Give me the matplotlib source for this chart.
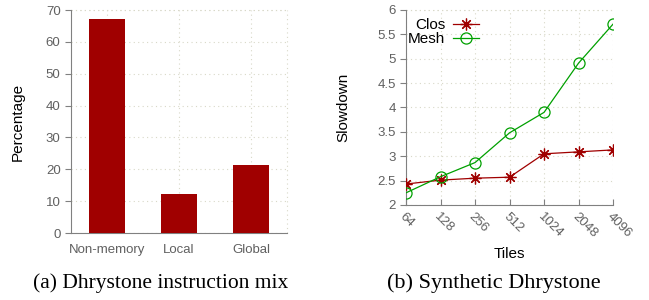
import matplotlib
matplotlib.use("Agg")
import matplotlib.pyplot as plt
import numpy as np

# data
mix_labels = ["Non-memory", "Local", "Global"]
mix_values = [67.1, 12.1, 21.2]

tiles = ["64", "128", "256", "512", "1024", "2048", "4096"]
clos = [2.43, 2.51, 2.55, 2.57, 3.05, 3.09, 3.13]
mesh = [2.25, 2.58, 2.87, 3.48, 3.90, 4.91, 5.71]

red = "#a00000"
green = "#00a000"
gray = "#808080"
tick_gray = "#606060"
grid_col = "#d8d8c8"

plt.rcParams["font.family"] = ["Liberation Sans", "DejaVu Sans"]
plt.rcParams["font.size"] = 9

fig = plt.figure(figsize=(6.49, 3.0), dpi=100)

# ---- (a) bar chart
ax1 = fig.add_axes([0.1094, 0.2233, 0.3328, 0.7433])
x = np.arange(len(mix_labels))
ax1.bar(x, mix_values, width=0.51, color=red, zorder=3)
ax1.set_xlim(-0.5, 2.5)
ax1.set_ylim(0, 70)
ax1.set_yticks(range(0, 71, 10))
ax1.set_xticks(x)
ax1.set_xticklabels(mix_labels)
ax1.set_ylabel("Percentage", fontsize=11, labelpad=15)
ax1.grid(True, linestyle=(0, (1, 3)), color=grid_col, linewidth=0.8, zorder=0)
for s in ["top", "right"]:
    ax1.spines[s].set_visible(False)
for s in ["left", "bottom"]:
    ax1.spines[s].set_color(gray)
ax1.tick_params(axis="y", direction="out", length=4, color=gray, labelcolor=tick_gray, labelsize=9.5)
ax1.tick_params(axis="x", length=0, pad=8, labelcolor=tick_gray, labelsize=9.5)
# dotted frame on top/right like the grid
ax1.axhline(70, color=grid_col, linestyle=(0, (1, 3)), linewidth=0.8, zorder=0, clip_on=False)
ax1.axvline(2.5, color=grid_col, linestyle=(0, (1, 3)), linewidth=0.8, zorder=0, clip_on=False)

# ---- (b) line chart
ax2 = fig.add_axes([0.6256, 0.3167, 0.319, 0.65])
xp = np.arange(len(tiles))
ax2.plot(xp, clos, color=red, linewidth=0.9, marker=(8, 2, 0), markersize=8.5,
         markeredgewidth=0.9, label="Clos", zorder=3)
ax2.plot(xp, mesh, color=green, linewidth=0.9, marker="o", markersize=8,
         markerfacecolor="none", markeredgewidth=0.9, label="Mesh", zorder=3)
ax2.set_xlim(0, 6)
ax2.set_ylim(2, 6)
ax2.set_yticks(np.arange(2, 6.01, 0.5))
ax2.set_yticklabels(["2", "2.5", "3", "3.5", "4", "4.5", "5", "5.5", "6"])
ax2.set_xticks(xp)
ax2.set_xticklabels(tiles, rotation=-45, ha="left", va="top", rotation_mode="anchor")
ax2.set_xlabel("Tiles", fontsize=11, labelpad=5)
ax2.set_ylabel("Slowdown", fontsize=11, labelpad=19)
ax2.grid(True, linestyle=(0, (1, 3)), color=grid_col, linewidth=0.8, zorder=0)
for s in ["top", "right"]:
    ax2.spines[s].set_visible(False)
for s in ["left", "bottom"]:
    ax2.spines[s].set_color(gray)
ax2.tick_params(axis="y", direction="out", length=4, color=gray, labelcolor=tick_gray, labelsize=9.5)
ax2.tick_params(axis="x", direction="in", length=4, color=gray, labelcolor=tick_gray,
                labelsize=9.5, pad=4)
ax2.axhline(6, color=grid_col, linestyle=(0, (1, 3)), linewidth=0.8, zorder=0, clip_on=False)
ax2.legend(loc="upper left", bbox_to_anchor=(-0.035, 1.005), frameon=False, markerfirst=False,
           handlelength=1.7, handletextpad=0.5, labelspacing=0.0, fontsize=11,
           borderaxespad=0.2)

# captions
fig.text(0.247, 0.055, "(a) Dhrystone instruction mix", ha="center", va="center",
         family=["Liberation Serif", "DejaVu Serif"], fontsize=15.5)
fig.text(0.761, 0.055, "(b) Synthetic Dhrystone", ha="center", va="center",
         family=["Liberation Serif", "DejaVu Serif"], fontsize=16)

fig.savefig("out.png", dpi=100)
